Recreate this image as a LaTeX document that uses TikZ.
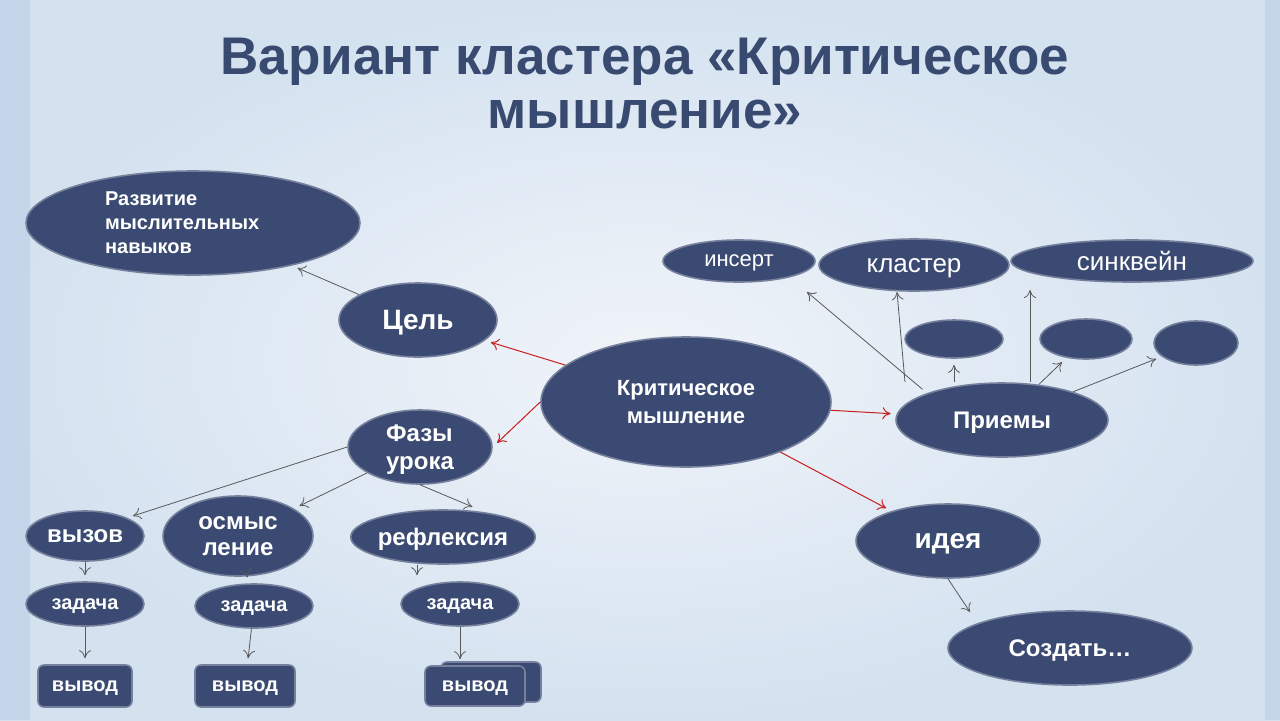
\documentclass[tikz,border=0pt]{standalone}
\usepackage{fontspec}
\setmainfont{Liberation Sans}
\usetikzlibrary{arrows.meta, shapes.geometric, positioning}
\definecolor{navy}{RGB}{59,74,114}
\definecolor{titleblue}{RGB}{56,74,112}
\definecolor{arrowred}{RGB}{200,30,30}
\definecolor{bgmid}{RGB}{240,244,249}
\definecolor{bgedge}{RGB}{212,226,240}
\definecolor{bgstrip}{RGB}{190,210,232}
\tikzset{
  bubble/.style={ellipse, fill=navy, draw=navy!70!white, line width=0.8pt, text=white, font=\bfseries, inner sep=0pt, align=center, text depth=0pt},
  box/.style={rectangle, rounded corners=3pt, fill=navy, draw=navy!70!white, line width=0.8pt, text=white, font=\bfseries, inner sep=0pt, text depth=0pt},
  link/.style={-{To[length=4pt,width=6pt]}, draw=black!65, line width=0.4pt, shorten >=3pt},
  redlink/.style={-{To[length=4pt,width=6pt]}, draw=arrowred, line width=0.5pt, shorten >=3pt}
}
\begin{document}
\begin{tikzpicture}[x=0.5pt, y=-0.5pt]
  % background
  \shade[inner color=bgmid, outer color=bgedge] (0,0) rectangle (1280,720);
  \fill[bgstrip, opacity=0.7] (0,0) rectangle (30,720);
  \fill[bgstrip, opacity=0.7] (1265,0) rectangle (1280,720);
  \useasboundingbox (0,0) rectangle (1280,720);

  % title
  \node[text=titleblue, font=\fontsize{26.5}{27}\selectfont\bfseries, align=center] (title) at (645,84)
    {Вариант кластера «Критическое\\мышление»};

  % centre
  \node[bubble, minimum width=145pt, minimum height=65pt, font=\fontsize{11}{14}\selectfont\bfseries] (crit) at (686,402) {Критическое\\мышление};

  % goal
  \node[bubble, minimum width=167pt, minimum height=52pt] (devel) at (193,223) {};
  \node[text=white, font=\fontsize{10}{12}\selectfont\bfseries, align=left, anchor=west] (develtext) at (98,223) {Развитие\\мыслительных\\навыков};
  \node[bubble, minimum width=79pt, minimum height=37pt, font=\fontsize{14}{16}\selectfont\bfseries] (goal) at (418,320) {Цель};

  % phases
  \node[bubble, minimum width=72pt, minimum height=37pt, font=\fontsize{12}{14}\selectfont\bfseries, align=left] (phases) at (420,447) {Фазы\\урока};
  \node[bubble, minimum width=59pt, minimum height=25pt, font=\fontsize{12}{14}\selectfont\bfseries] (call) at (85,536) {вызов};
  \node[bubble, minimum width=75pt, minimum height=40pt, font=\fontsize{12}{13}\selectfont\bfseries] (sense) at (238,536) {осмыс\\ление};
  \node[bubble, minimum width=90pt, minimum height=27pt, font=\fontsize{12}{14}\selectfont\bfseries] (refl) at (443,537) {рефлексия};

  \node[bubble, minimum width=59pt, minimum height=22pt, font=\fontsize{10}{12}\selectfont\bfseries] (task1) at (85,604) {задача};
  \node[bubble, minimum width=59pt, minimum height=22pt, font=\fontsize{10}{12}\selectfont\bfseries] (task2) at (254,606) {задача};
  \node[bubble, minimum width=59pt, minimum height=22pt, font=\fontsize{10}{12}\selectfont\bfseries] (task3) at (460,604) {задача};

  \node[box, minimum width=47pt, minimum height=21pt, font=\fontsize{10}{12}\selectfont\bfseries] (out1) at (85,686) {вывод};
  \node[box, minimum width=50pt, minimum height=21pt, font=\fontsize{10}{12}\selectfont\bfseries] (out2) at (245,686) {вывод};
  \node[box, minimum width=50pt, minimum height=20pt] (out3back) at (491,682) {};
  \node[box, minimum width=50pt, minimum height=20pt, font=\fontsize{10}{12}\selectfont\bfseries] (out3) at (475,686) {вывод};

  % techniques
  \node[bubble, minimum width=106pt, minimum height=37pt, font=\fontsize{12}{14}\selectfont\bfseries] (tech) at (1002,420) {Приемы};
  \node[bubble, minimum width=76pt, minimum height=21pt, font=\fontsize{11}{13}\selectfont] (insert) at (739,261) {инсерт};
  \node[bubble, minimum width=95pt, minimum height=26pt, font=\fontsize{13}{15}\selectfont] (cluster) at (914,265) {кластер};
  \node[bubble, minimum width=121pt, minimum height=21pt, font=\fontsize{13}{15}\selectfont] (cinq) at (1132,261) {синквейн};
  \node[bubble, minimum width=49pt, minimum height=19pt] (blankA) at (954,339) {};
  \node[bubble, minimum width=46pt, minimum height=20pt] (blankB) at (1086,339) {};
  \node[bubble, minimum width=42pt, minimum height=22pt] (blankC) at (1196,343) {};

  % idea
  \node[bubble, minimum width=92pt, minimum height=37pt, font=\fontsize{14}{16}\selectfont\bfseries] (idea) at (948,541) {идея};
  \node[bubble, minimum width=122pt, minimum height=37pt, font=\fontsize{12}{14}\selectfont\bfseries] (create) at (1070,648) {Создать…};

  % free ends of the arrows
  \coordinate (insertend) at (807,292);
  \coordinate (clusterend) at (897,292);
  \coordinate (cinqend) at (1030,290);
  \coordinate (createend) at (970,612);

  % connectors
  \draw[link] (goal) -- (devel);
  \draw[redlink] (crit) -- (goal);
  \draw[redlink] (crit.west) -- (phases.east);
  \draw[redlink] (crit) -- (tech);
  \draw[redlink] (crit) -- (idea);
  \draw[link, shorten >=0pt] (idea.south) -- (createend);
  \draw[link] (phases.west) -- (call.north east);
  \draw[link] (phases) -- (sense);
  \draw[link] (phases.south) -- (refl.north -| 478,0);
  \draw[link] (call) -- (task1);
  \draw[link] (sense) -- (task2);
  \draw[link] (refl.south -| 417,0) -- (task3.north -| 417,0);
  \draw[link] (task1) -- (out1);
  \draw[link] (task2) -- (out2);
  \draw[link] (task3) -- (out3.north -| task3);
  \draw[link, shorten >=0pt] (tech.north west) ++(-4,-4) -- (insertend);
  \draw[link, shorten >=0pt] (tech.north -| 905,0) -- (clusterend);
  \draw[link] (tech.north -| blankA) -- (blankA);
  \draw[link, shorten >=0pt] (tech.north -| 1030,0) -- (cinqend);
  \draw[link] (tech) -- (blankB);
  \draw[link] (tech) -- (blankC);
\end{tikzpicture}
\end{document}
